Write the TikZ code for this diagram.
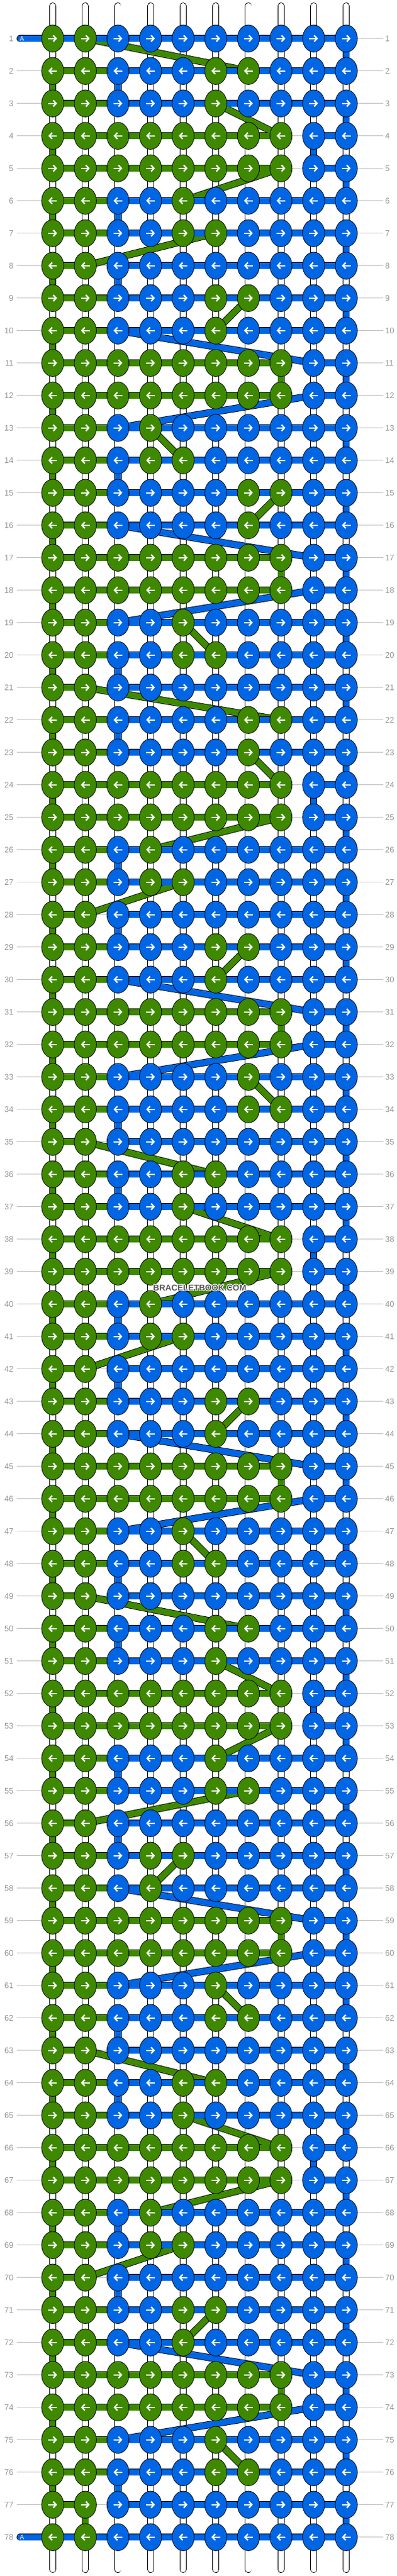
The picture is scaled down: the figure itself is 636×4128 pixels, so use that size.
\documentclass[tikz,border=0pt]{standalone}
\usepackage{fontspec}
\setmainfont{Liberation Sans}
\usetikzlibrary{arrows.meta,shapes.geometric}
\definecolor{kgreen}{RGB}{62,137,0}
\definecolor{kblue}{RGB}{0,102,228}
\definecolor{lblgray}{RGB}{150,150,150}
\definecolor{rulegray}{RGB}{192,192,192}
\definecolor{wmgray}{RGB}{85,85,85}
\tikzset{
  rowrule/.style={draw=rulegray, line width=0.9pt},
  warpout/.style={draw=black, line width=11pt, line cap=round},
  warpin/.style={draw=white, line width=9.2pt, line cap=round},
  tout/.style={draw=black, line width=11.4pt},
  tg/.style={draw=kgreen, line width=9.6pt},
  tb/.style={draw=kblue, line width=9.6pt},
  knot/.style={ellipse, draw=black, line width=0.8pt, minimum width=35.4pt, minimum height=43.4pt, inner sep=0pt, outer sep=0pt},
  arr/.style={draw=white, line width=2.3pt, -{Straight Barb[length=4.6pt,width=10pt]}},
  lbl/.style={text=lblgray, inner sep=0pt, font=\fontsize{13}{13}\selectfont},
  leadlbl/.style={text=white, inner sep=0pt, font=\fontsize{10}{10}\selectfont},
  wm/.style={inner sep=0pt, font=\bfseries\fontsize{13.5}{13.5}\selectfont}
}
% row / green knots / last green column / first blue column
\def\rowdata{1/{1,2}/2/1, 2/{1,2,6,7}/7/3, 3/{1,2,6}/6/3, 4/{1,...,8}/8/9, 5/{1,...,8}/8/9,
6/{1,2,5}/5/3, 7/{1,2,5,6}/6/3, 8/{1,2}/2/3, 9/{1,2,6,7}/7/3, 10/{1,2,6}/6/3,
11/{1,...,8}/8/9, 12/{1,...,8}/8/9, 13/{1,2,4}/4/3, 14/{1,2,4,5}/5/3, 15/{1,2,7,8}/8/3,
16/{1,2,7}/7/3, 17/{1,...,8}/8/9, 18/{1,...,8}/8/9, 19/{1,2,5}/5/3, 20/{1,2,5,6}/6/3,
21/{1,2}/2/3, 22/{1,2,7,8}/8/3, 23/{1,2,7}/7/3, 24/{1,...,8}/8/9, 25/{1,...,8}/8/9,
26/{1,2,4}/4/3, 27/{1,2,4,5}/5/3, 28/{1,2}/2/3, 29/{1,2,6,7}/7/3, 30/{1,2,6}/6/3,
31/{1,...,8}/8/9, 32/{1,...,8}/8/9, 33/{1,2,7}/7/3, 34/{1,2,7,8}/8/3, 35/{1,2}/2/3,
36/{1,2,5,6}/6/3, 37/{1,2,5}/5/3, 38/{1,...,8}/8/9, 39/{1,...,8}/8/9, 40/{1,2,4}/4/3,
41/{1,2,4,5}/5/3, 42/{1,2}/2/3, 43/{1,2,6,7}/7/3, 44/{1,2,6}/6/3, 45/{1,...,8}/8/9,
46/{1,...,8}/8/9, 47/{1,2,5}/5/3, 48/{1,2,5,6}/6/3, 49/{1,2}/2/3, 50/{1,2,6,7}/7/3,
51/{1,2,6}/6/3, 52/{1,...,8}/8/9, 53/{1,...,8}/8/9, 54/{1,2,6}/6/3, 55/{1,2,6,7}/7/3,
56/{1,2}/2/3, 57/{1,2,4,5}/5/3, 58/{1,2,4}/4/3, 59/{1,...,8}/8/9, 60/{1,...,8}/8/9,
61/{1,2,6}/6/3, 62/{1,2,6,7}/7/3, 63/{1,2}/2/3, 64/{1,2,5,6}/6/3, 65/{1,2,5}/5/3,
66/{1,...,8}/8/9, 67/{1,...,8}/8/9, 68/{1,2,4}/4/3, 69/{1,2,4,5}/5/3, 70/{1,2}/2/3,
71/{1,2,5,6}/6/3, 72/{1,2,5}/5/3, 73/{1,...,8}/8/9, 74/{1,...,8}/8/9, 75/{1,2,6}/6/3,
76/{1,2,6,7}/7/3, 77/{1,2}/2/3, 78/{1,2}/2/1}
% green thread: odd row -> next row (from column / to column)
\def\gtrans{1/2/7, 3/6/8, 5/8/5, 7/6/2, 9/7/6, 11/8/8, 13/4/5, 15/8/7, 17/8/8, 19/5/6,
21/2/8, 23/7/8, 25/8/4, 27/5/2, 29/7/6, 31/8/8, 33/7/8, 35/2/6, 37/5/8, 39/8/4,
41/5/2, 43/7/6, 45/8/8, 47/5/6, 49/2/7, 51/6/8, 53/8/6, 55/7/2, 57/5/4, 59/8/8,
61/6/7, 63/2/6, 65/5/8, 67/8/4, 69/5/2, 71/6/5, 73/8/8, 75/6/7, 77/2/2}
% blue thread: even row -> next row
\def\btrans{2/3/3, 4/9/9, 6/3/3, 8/3/3, 10/3/9, 12/9/3, 14/3/3, 16/3/9, 18/9/3, 20/3/3,
22/3/3, 24/9/9, 26/3/3, 28/3/3, 30/3/9, 32/9/3, 34/3/3, 36/3/3, 38/9/9, 40/3/3,
42/3/3, 44/3/9, 46/9/3, 48/3/3, 50/3/3, 52/9/9, 54/3/3, 56/3/3, 58/3/9, 60/9/3,
62/3/3, 64/3/3, 66/9/9, 68/3/3, 70/3/3, 72/3/9, 74/9/3, 76/3/3}
\newcommand\greenpaths[1]{%
  \foreach \r/\g/\m/\b in \rowdata {\draw[#1] (p\r-1) -- (p\r-\m);}
  \foreach \r in {2,4,...,76} {\pgfmathtruncatemacro\rn{\r+1}\draw[#1] (p\r-1) -- (p\rn-1);}
  \foreach \r/\a/\z in \gtrans {\pgfmathtruncatemacro\rn{\r+1}\draw[#1] (p\r-\a) -- (p\rn-\z);}
}
\newcommand\bluepaths[1]{%
  \foreach \r/\g/\m/\b in \rowdata {\draw[#1] (p\r-\b) -- (p\r-10);}
  \foreach \r in {1,3,...,77} {\pgfmathtruncatemacro\rn{\r+1}\draw[#1] (p\r-10) -- (p\rn-10);}
  \foreach \r/\a/\z in \btrans {\pgfmathtruncatemacro\rn{\r+1}\draw[#1] (p\r-\a) -- (p\rn-\z);}
  \draw[#1, line cap=round] (leadT) -- (p1-1);
  \draw[#1, line cap=round] (leadB) -- (p78-1);
}
\begin{document}
\begin{tikzpicture}[x=1pt,y=-1pt]
\useasboundingbox (0,0) rectangle (636,4128);
\fill[white] (0,0) rectangle (636,4128);
% grid coordinates
\foreach \r in {1,...,78}{
  \foreach \c in {1,...,10}{
    \coordinate (p\r-\c) at ({84.45+52.25*(\c-1)},{61.7+52*(\r-1)});
  }
  \coordinate (gl\r) at (26.5,{61.7+52*(\r-1)});
  \coordinate (gr\r) at (613.5,{61.7+52*(\r-1)});
}
\foreach \c in {1,...,10}{
  \coordinate (wt\c) at ({84.45+52.25*(\c-1)},9.5);
  \coordinate (wb\c) at ({84.45+52.25*(\c-1)},4117.5);
}
\coordinate (leadT) at (32.2,61.7);
\coordinate (leadB) at (32.2,{61.7+52*77});
% row rules
\foreach \r in {1,...,78} {\draw[rowrule] (gl\r) -- (gr\r);}
% warp strings
\foreach \c in {1,...,10}{
  \draw[warpout] (wt\c) -- (wb\c);
  \draw[warpin] (wt\c) -- (wb\c);
}
% threads
\greenpaths{tout}
\greenpaths{tg}
\bluepaths{tout}
\bluepaths{tb}
% knot colours
\foreach \r/\g/\m/\b in \rowdata {\foreach \c in \g {\expandafter\xdef\csname isg-\r-\c\endcsname{1}}}
% knots
\foreach \r in {1,...,78}{
  \foreach \c in {1,...,10}{
    \ifcsname isg-\r-\c\endcsname\def\kc{kgreen}\else\def\kc{kblue}\fi
    \node[knot, fill=\kc] (k\r-\c) at (p\r-\c) {};
    \ifodd\r\relax
      \draw[arr] ([xshift=-7pt]k\r-\c.center) -- ([xshift=7pt]k\r-\c.center);
    \else
      \draw[arr] ([xshift=7pt]k\r-\c.center) -- ([xshift=-7pt]k\r-\c.center);
    \fi
  }
}
% row numbers
\foreach \r in {1,...,78}{
  \node[lbl, anchor=east] (nl\r) at (21.8,{61.7+52*(\r-1)}) {\r};
  \node[lbl, anchor=west] (nr\r) at (617,{61.7+52*(\r-1)}) {\r};
}
% thread letter
\node[leadlbl, anchor=west] (aT) at (31.6,61.7) {A};
\node[leadlbl, anchor=west] (aB) at (31.6,{61.7+52*77}) {A};
% watermark
\foreach \dx/\dy in {-1/0,1/0,0/-1,0/1,-0.7/-0.7,0.7/0.7,-0.7/0.7,0.7/-0.7}{
  \node[wm, text=white] at ({320+\dx},{2064+\dy}) {BRACELETBOOK.COM};
}
\node[wm, text=wmgray] (wmark) at (320,2064) {BRACELETBOOK.COM};
\end{tikzpicture}
\end{document}
